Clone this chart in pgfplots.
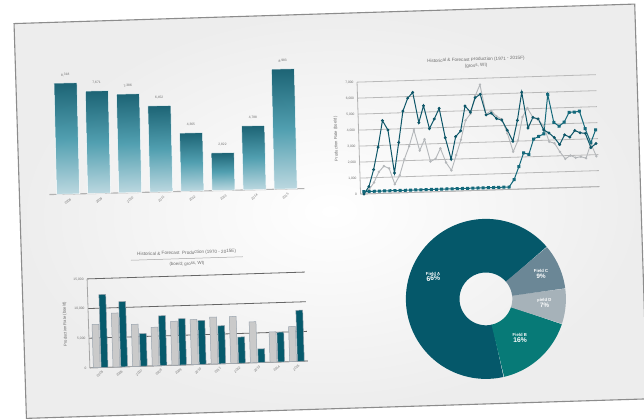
\documentclass[border=0pt]{standalone}
\usepackage{fontspec}
\setmainfont{Liberation Sans}
\usepackage{pgfplots}
\pgfplotsset{compat=1.18}
\definecolor{barTop}{HTML}{1D6475}
\definecolor{barMid}{HTML}{519FB0}
\definecolor{barBot}{HTML}{BCD8E0}
\definecolor{sA}{HTML}{0D5668}
\definecolor{sB}{HTML}{14697B}
\definecolor{sG}{HTML}{B4B7BA}
\definecolor{grayBar}{HTML}{CACACA}
\definecolor{barEdge}{HTML}{9AA4AE}
\definecolor{tealBar}{HTML}{065A6C}
\definecolor{fA}{HTML}{05586A}
\definecolor{fB}{HTML}{077A77}
\definecolor{fC}{HTML}{6B8796}
\definecolor{fD}{HTML}{A6B2B9}
\definecolor{txt}{HTML}{6E6E6E}
\definecolor{paperEdge}{HTML}{8C8C8C}
\tikzset{tinytxt/.style={font=\fontsize{3.3}{4}\selectfont, text=txt}}
\pgfplotsset{
  c1bar/.style={ybar, bar width=23pt, bar shift=0pt, draw=white, line width=0.5pt,
    top color=barTop, bottom color=barBot, middle color=barMid, mark=none},
}
\begin{document}
\begin{tikzpicture}
\useasboundingbox (0pt,0pt) rectangle (644pt,418pt);
\fill[white] (0pt,0pt) rectangle (644pt,418pt);
\begin{scope}[transform canvas={rotate around={1.8:(322pt,209pt)}}]
\shade[inner color=white, outer color=gray!14] (20pt,9pt) rectangle (641pt,404pt);
\draw[paperEdge, line width=1.1pt] (20pt,9pt) rectangle (641pt,404pt);

% ---------- Chart 1: gradient bars ----------
\begin{scope}[transform canvas={rotate around={-0.45:(177pt,231pt)}}]
\begin{axis}[
  at={(50pt,231pt)}, anchor=south west,
  scale only axis, width=255pt, height=127pt,
  xmin=-0.6, xmax=7.6, ymin=0, ymax=9500,
  axis x line*=bottom, axis y line=none,
  axis line style={draw=gray!60, line width=1.1pt, -},
  xtick={0,...,7},
  xticklabels={2008,2009,2010,2011,2012,2013,2014,2015},
  xticklabel style={rotate=40, anchor=north east, tinytxt, inner sep=1pt, yshift=-3pt},
  major tick length=0pt,
  ytick=\empty,
  clip=false,
  nodes near coords,
  every node near coord/.append style={tinytxt, anchor=south, yshift=3pt},
  /pgf/number format/assume math mode=true,
]
\addplot[c1bar] coordinates {(0,8318)};
\addplot[c1bar] coordinates {(1,7671)};
\addplot[c1bar] coordinates {(2,7386)};
\addplot[c1bar] coordinates {(3,6452)};
\addplot[c1bar] coordinates {(4,4365)};
\addplot[c1bar] coordinates {(5,2822)};
\addplot[c1bar] coordinates {(6,4788)};
\addplot[c1bar] coordinates {(7,8983)};
\end{axis}
\end{scope}

% ---------- Chart 2: lines ----------
\begin{axis}[
  at={(361pt,222.7pt)}, anchor=south west,
  scale only axis, width=239pt, height=112pt,
  xmin=-0.66, xmax=45.4, ymin=0, ymax=7000,
  axis x line*=bottom, axis y line*=left,
  axis line style={draw=gray!60, line width=0.8pt, -},
  xtick=\empty, ytick={0,1000,...,7000}, scaled y ticks=false,
  ymajorgrids, grid style={draw=gray!55, line width=0.8pt},
  yticklabel style={tinytxt},
  /pgf/number format/assume math mode=true,
  major tick length=0pt,
  ylabel={Production Rate (boe/d)},
  ylabel style={font=\fontsize{4.2}{5}\selectfont, text=txt, at={(axis description cs:-0.095,0.5)}, anchor=center},
  title={Historical \& Forecast Production (1971 - 2015F)\\(gross, WI)},
  title style={align=center, font=\fontsize{4.6}{6}\selectfont, text=txt, yshift=1pt},
  clip=false,
]
\addplot[color=sG, line width=0.9pt, mark=*, mark size=0.7pt] coordinates {
(0,0)(1,250)(2,700)(3,1350)(4,1700)(5,1550)(6,550)(7,1100)(8,2100)(9,2900)
(10,3900)(11,2600)(12,3300)(13,1900)(14,2050)(15,2700)(16,1800)(17,1300)(18,2250)(19,3200)
(20,4400)(21,4800)(22,5900)(23,6600)(24,4750)(25,4950)(26,4600)(27,4400)(28,3500)(29,2350)
(30,3050)(31,4500)(32,5050)(33,4450)(34,4300)(35,3900)(36,2900)(37,2800)(38,2250)(39,1800)
(40,2000)(41,1850)(42,1900)(43,1800)(44,2700)(45,1900)};
\addplot[color=sA, line width=1pt, mark=*, mark size=0.9pt] coordinates {
(0,0)(1,450)(2,1500)(3,2900)(4,4550)(5,3950)(6,1250)(7,3150)(8,5100)(9,5900)
(10,6250)(11,4350)(12,5400)(13,3950)(14,4550)(15,5200)(16,3350)(17,2000)(18,3400)(19,3750)
(20,5300)(21,4900)(22,5800)(23,6000)(24,4700)(25,4800)(26,4450)(27,4350)(28,3700)(29,3000)
(30,4300)(31,6050)(32,3800)(33,4450)(34,4350)(35,3650)(36,3450)(37,3150)(38,2700)(39,3300)
(40,3150)(41,3550)(42,3400)(43,3350)(44,2450)(45,2700)};
\addplot[color=sB, line width=1pt, mark=square*, mark size=1pt] coordinates {
(0,150)(1,150)(2,150)(3,150)(4,150)(5,150)(6,150)(7,150)(8,150)(9,150)
(10,150)(11,150)(12,150)(13,150)(14,150)(15,150)(16,150)(17,150)(18,150)(19,150)
(20,150)(21,150)(22,150)(23,150)(24,150)(25,150)(26,150)(27,150)(28,150)(29,600)
(30,1400)(31,2250)(32,2150)(33,3100)(34,3250)(35,3400)(36,5850)(37,4100)(38,3850)(39,4100)
(40,4700)(41,4700)(42,4750)(43,3650)(44,2750)(45,3550)};
\end{axis}

% ---------- Chart 3: grouped bars ----------
\begin{axis}[
  at={(85pt,57.5pt)}, anchor=south west,
  scale only axis, width=218pt, height=89pt,
  xmin=-0.55, xmax=10.55, ymin=0, ymax=15000,
  axis x line*=bottom, axis y line*=left,
  axis line style={draw=gray!70, line width=0.8pt, -},
  ytick={0,5000,10000,15000}, scaled y ticks=false,
  ymajorgrids, grid style={draw=gray!80!black, line width=0.8pt},
  xtick={0,...,10},
  xticklabels={2005,2006,2007,2008,2009,2010,2011,2012,2013,2014,2015},
  xticklabel style={rotate=40, anchor=north east, tinytxt, inner sep=1pt, yshift=-2pt},
  yticklabel style={tinytxt},
  /pgf/number format/assume math mode=true,
  major tick length=0pt,
  ybar=1pt, bar width=6.8pt,
  ylabel={Production Rate (boe/d)},
  ylabel style={font=\fontsize{4.2}{5}\selectfont, text=txt, at={(axis description cs:-0.107,0.5)}, anchor=center},
  clip=false,
]
\addplot[fill=grayBar, draw=barEdge, line width=0.5pt] coordinates {
(0,7300)(1,9100)(2,7100)(3,6500)(4,7400)(5,7600)(6,7900)(7,7900)(8,6900)(9,5100)(10,5900)};
\addplot[fill=tealBar, draw=barEdge, line width=0.5pt] coordinates {
(0,12300)(1,11000)(2,5500)(3,8400)(4,7800)(5,7400)(6,6400)(7,4400)(8,2300)(9,5000)(10,8600)};
\node[font=\fontsize{4.6}{6}\selectfont, text=txt] at (rel axis cs:0.46,1.256) {Historical \& Forecast\ \ Production (1970 - 2015E)};
\draw[gray!70, line width=0.5pt] (rel axis cs:0.204,1.194) -- (rel axis cs:0.718,1.194);
\node[font=\fontsize{4.4}{6}\selectfont, text=txt] at (rel axis cs:0.46,1.133) {(boe/d;\ gross, WI)};
\end{axis}

% ---------- Chart 4: donut (shares 66, 16, 9, 7 of 98) ----------
\begin{axis}[
  at={(483pt,114pt)}, anchor=center,
  scale only axis, width=160pt, height=160pt,
  xmin=-1, xmax=1, ymin=-1, ymax=1, hide axis, clip=false,
]
% Field A 66 -> 242.45 deg, Field B 16 -> 58.78, Field D 7 -> 25.71, Field C 9 -> 33.06
\addplot[draw=fA, line width=53.6pt, domain=-321.3:-78.85, samples=160, mark=none] ({0.665*cos(x)},{0.665*sin(x)});
\addplot[draw=fB, line width=53.6pt, domain=-78.85:-20.07, samples=50, mark=none] ({0.665*cos(x)},{0.665*sin(x)});
\addplot[draw=fD, line width=53.6pt, domain=-20.07:5.64, samples=30, mark=none] ({0.665*cos(x)},{0.665*sin(x)});
\addplot[draw=fC, line width=53.6pt, domain=5.64:38.7, samples=30, mark=none] ({0.665*cos(x)},{0.665*sin(x)});
\node[text=white, align=center, font=\fontsize{4.3}{5.5}\selectfont\bfseries] at (axis cs:-0.65,0.30) {Field A\\{\fontsize{6.8}{7.5}\selectfont 66\%}};
\node[text=white, align=center, font=\fontsize{4.3}{5.5}\selectfont\bfseries] at (axis cs:0.41,-0.50) {Field B\\{\fontsize{6.8}{7.5}\selectfont 16\%}};
\node[text=white, align=center, font=\fontsize{4.3}{5.5}\selectfont\bfseries] at (axis cs:0.70,0.29) {Field C\\{\fontsize{6.3}{7}\selectfont 9\%}};
\node[text=white, align=center, font=\fontsize{4.3}{5.5}\selectfont\bfseries] at (axis cs:0.73,-0.075) {Field D\\{\fontsize{6.3}{7}\selectfont 7\%}};
\end{axis}
\end{scope}
\end{tikzpicture}
\end{document}
